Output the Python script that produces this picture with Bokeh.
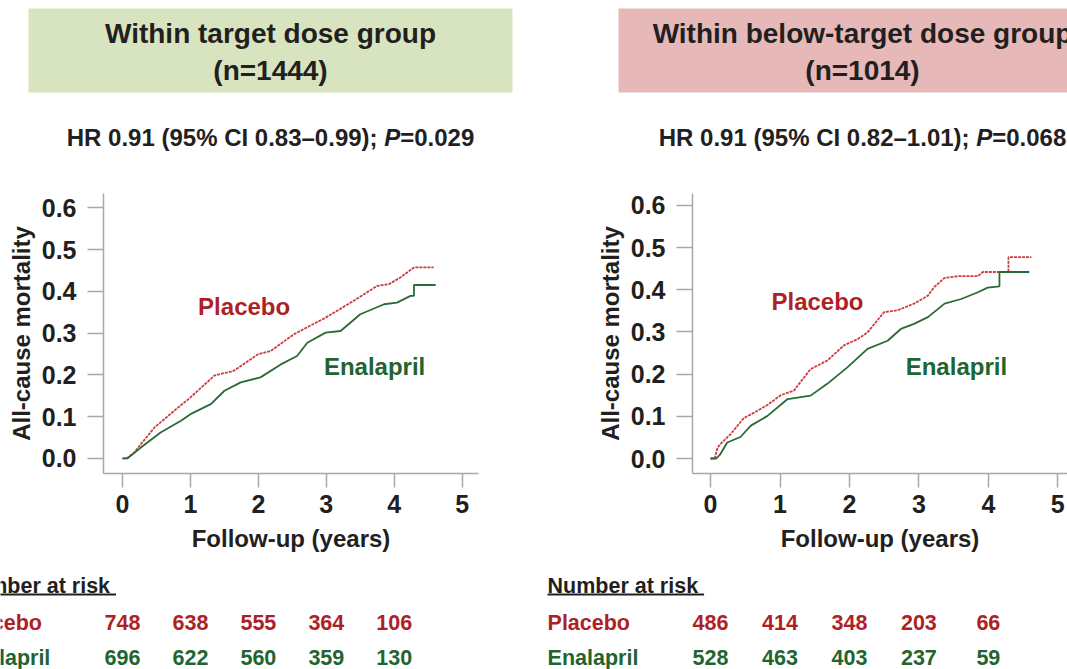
from bokeh.plotting import figure
from bokeh.layouts import row, column
from bokeh.models import Range1d, FixedTicker
from bokeh.core.properties import value
from bokeh.embed import file_html
from bokeh.resources import INLINE

# ---------------- data ----------------
titles = ["Within target dose group", "Within below-target dose group"]
group_n = ["(n=1444)", "(n=1014)"]
hr_main = ["HR 0.91 (95% CI 0.83\u20130.99);", "HR 0.91 (95% CI 0.82\u20131.01);"]
p_vals = ["=0.029", "=0.068"]

x_ticks = [0, 1, 2, 3, 4, 5]
y_ticks = [0.0, 0.1, 0.2, 0.3, 0.4, 0.5, 0.6]

# target dose group (left)
L_t_pla = [0, 0.06, 0.17, 0.47, 0.76, 1.0, 1.35, 1.64, 1.99, 2.18, 2.52, 2.99, 3.36, 3.75, 3.92, 4.09, 4.29, 4.58]
L_y_pla = [0, 0.0, 0.014, 0.074, 0.114, 0.146, 0.198, 0.210, 0.249, 0.257, 0.297, 0.337, 0.373, 0.413, 0.417, 0.433, 0.457, 0.457]
L_t_ena = [0, 0.07, 0.27, 0.56, 0.86, 1.0, 1.30, 1.50, 1.74, 2.03, 2.33, 2.57, 2.72, 2.99, 3.21, 3.50, 3.85, 4.04, 4.24, 4.29, 4.29, 4.61]
L_y_ena = [0, 0.0, 0.026, 0.062, 0.090, 0.106, 0.130, 0.162, 0.182, 0.194, 0.225, 0.245, 0.277, 0.301, 0.305, 0.345, 0.369, 0.373, 0.389, 0.389, 0.415, 0.415]

# below-target dose group (right)
R_t_pla = [0, 0.06, 0.10, 0.14, 0.29, 0.48, 0.63, 0.82, 1.01, 1.20, 1.44, 1.68, 1.92, 2.12, 2.26, 2.50, 2.69, 2.93, 3.13, 3.22, 3.37, 3.56, 3.85, 3.92, 4.29, 4.29, 4.62]
R_y_pla = [0, 0.0, 0.026, 0.034, 0.058, 0.096, 0.109, 0.127, 0.150, 0.161, 0.212, 0.232, 0.268, 0.283, 0.299, 0.347, 0.351, 0.367, 0.386, 0.406, 0.428, 0.432, 0.432, 0.442, 0.442, 0.477, 0.477]
R_t_ena = [0, 0.08, 0.14, 0.24, 0.43, 0.58, 0.82, 1.11, 1.44, 1.68, 1.97, 2.26, 2.55, 2.74, 2.93, 3.13, 3.37, 3.61, 3.85, 3.99, 4.16, 4.16, 4.59]
R_y_ena = [0, 0.0, 0.010, 0.038, 0.051, 0.078, 0.101, 0.141, 0.149, 0.177, 0.216, 0.260, 0.279, 0.307, 0.319, 0.335, 0.367, 0.378, 0.394, 0.405, 0.408, 0.442, 0.442]

risk_times = [0, 1, 2, 3, 4]
L_risk_pla = [748, 638, 555, 364, 106]
L_risk_ena = [696, 622, 560, 359, 130]
R_risk_pla = [486, 414, 348, 203, 66]
R_risk_ena = [528, 463, 403, 237, 59]

# ---------------- style ----------------
FONT = value("Liberation Sans")
DARK = "#231f20"
RED_TXT = "#ae1f26"
GRN_TXT = "#1f6530"
RED_LN = "#cc3c40"
GRN_LN = "#2a6a36"
AXIS_C = "#a8a8a8"
BOX_C = ["#d8e4bf", "#e6b9b8"]

W_EM = {" ": 278, "(": 333, ")": 333, "%": 889, ";": 333, "=": 584, ".": 278, "\u2013": 556,
        "H": 722, "R": 722, "C": 722, "I": 278, "P": 667, "N": 722, "u": 611, "m": 889, "b": 611,
        "e": 556, "r": 389, "a": 556, "t": 333, "i": 278, "s": 556, "k": 556}


def text_w(s, size):
    return sum(W_EM.get(c, 556) for c in s) / 1000.0 * size


def no_align(p):
    try:
        p.frame_align = False
    except Exception:
        pass


def base_fig(w, h, xr, yr):
    p = figure(width=w, height=h, x_range=xr, y_range=yr, toolbar_location=None,
               output_backend="svg", x_axis_type=None, y_axis_type=None,
               min_border=0, outline_line_color=None)
    p.background_fill_color = "white"
    p.border_fill_color = "white"
    no_align(p)
    return p


COL_SPLIT = 540
PAGE_W, PAGE_H = 1067, 669
WL = COL_SPLIT
WR = PAGE_W - COL_SPLIT
TOP_H, MID_H = 170, 390
BOT_H = PAGE_H - TOP_H - MID_H


def top_panel(idx, x0, x1, box_l, box_r, cx):
    p = base_fig(x1 - x0, TOP_H, Range1d(x0, x1), Range1d(TOP_H, 0))
    p.quad(left=[box_l], right=[box_r], top=[8], bottom=[92], fill_color=BOX_C[idx], line_color=None)
    p.text(x=[cx], y=[33], text=[titles[idx]], text_font=FONT, text_font_style="bold",
           text_font_size="28px", text_color=DARK, text_align="center", text_baseline="middle")
    p.text(x=[cx], y=[70], text=[group_n[idx]], text_font=FONT, text_font_style="bold",
           text_font_size="28px", text_color=DARK, text_align="center", text_baseline="middle")
    fs = 24
    a, b, c = hr_main[idx], "P", p_vals[idx]
    wa = text_w(a + " ", fs)
    wb = text_w(b, fs)
    total = wa + wb + text_w(c, fs)
    x_s = -total / 2
    common = dict(text_font=FONT, text_font_size=f"{fs}px", text_color=DARK,
                  text_align="left", text_baseline="middle")
    p.text(x=[cx], y=[137], x_offset=x_s, text=[a], text_font_style="bold", **common)
    p.text(x=[cx], y=[137], x_offset=x_s + wa, text=[b], text_font_style="bold italic", **common)
    p.text(x=[cx], y=[137], x_offset=x_s + wa + wb, text=[c], text_font_style="bold", **common)
    return p


def km_panel(w, xr, yr, bl, br, t_p, y_p, t_e, y_e, lab_p, lab_e):
    p = figure(width=w, height=MID_H, x_range=xr, y_range=yr, toolbar_location=None,
               output_backend="svg", min_border_left=bl, min_border_right=br,
               min_border_top=23, min_border_bottom=87, outline_line_color=None)
    no_align(p)
    p.grid.visible = False
    p.background_fill_color = "white"
    p.border_fill_color = "white"
    for ax in (p.xaxis[0], p.yaxis[0]):
        ax.axis_line_color = AXIS_C
        ax.axis_line_width = 1.5
        ax.major_tick_line_color = AXIS_C
        ax.major_tick_line_width = 1.5
        ax.major_tick_in = 0
        ax.minor_tick_line_color = None
        ax.major_label_text_font = "Liberation Sans"
        ax.major_label_text_font_style = "bold"
        ax.major_label_text_font_size = "25px"
        ax.major_label_text_color = DARK
        ax.axis_label_text_font = "Liberation Sans"
        ax.axis_label_text_font_style = "bold"
        ax.axis_label_text_font_size = "24px"
        ax.axis_label_text_color = DARK
    p.xaxis.ticker = FixedTicker(ticks=x_ticks)
    p.yaxis.ticker = FixedTicker(ticks=y_ticks)
    p.yaxis.major_label_overrides = {v: f"{v:.1f}" for v in y_ticks}
    p.xaxis.major_tick_out = 14
    p.yaxis.major_tick_out = 16
    p.xaxis.major_label_standoff = 7
    p.yaxis.major_label_standoff = 11
    p.xaxis.axis_label = "Follow-up (years)"
    p.yaxis.axis_label = "All-cause mortality"
    p.xaxis.axis_label_standoff = 9
    p.yaxis.axis_label_standoff = 4

    p.line(t_p, y_p, line_color=RED_LN, line_width=1.8, line_dash="3 1")
    p.line(t_e, y_e, line_color=GRN_LN, line_width=1.8)
    p.text(x=[lab_p[0]], y=[lab_p[1]], text=["Placebo"], text_font=FONT, text_font_style="bold",
           text_font_size="24px", text_color=RED_TXT, text_align="center", text_baseline="middle")
    p.text(x=[lab_e[0]], y=[lab_e[1]], text=["Enalapril"], text_font=FONT, text_font_style="bold",
           text_font_size="24px", text_color=GRN_TXT, text_align="center", text_baseline="middle")
    return p


def risk_panel(w, xr, r_p, r_e, label_dx):
    p = base_fig(w, BOT_H, xr, Range1d(PAGE_H, TOP_H + MID_H))
    fsz = 21.5
    fs = f"{fsz}px"
    head = "Number at risk"
    common = dict(text_font=FONT, text_font_style="bold", text_font_size=fs,
                  text_baseline="middle")
    p.text(x=[0], y=[585], x_offset=label_dx, text=[head], text_color=DARK, text_align="left", **common)
    px_per_yr = w / (xr.end - xr.start)
    ul_len = text_w(head + " ", fsz) / px_per_yr
    x_start = label_dx / px_per_yr
    p.segment(x0=[x_start], y0=[594], x1=[x_start + ul_len], y1=[594], line_color=DARK, line_width=2)
    p.text(x=[0], y=[622], x_offset=label_dx, text=["Placebo"], text_color=RED_TXT, text_align="left", **common)
    p.text(x=[0], y=[657], x_offset=label_dx, text=["Enalapril"], text_color=GRN_TXT, text_align="left", **common)
    p.text(x=risk_times, y=[622] * 5, text=[str(v) for v in r_p], text_color=RED_TXT, text_align="center", **common)
    p.text(x=risk_times, y=[657] * 5, text=[str(v) for v in r_e], text_color=GRN_TXT, text_align="center", **common)
    return p


# left column: frame spans x=103..478 for t in (-0.28, 5.24)
L_FL, L_FR = 103, 478
L_XR = (-0.28, 5.24)
L_ppy = (L_FR - L_FL) / (L_XR[1] - L_XR[0])
tl = top_panel(0, 0, COL_SPLIT, 28, 512, 270)
ml = km_panel(WL, Range1d(*L_XR), Range1d(-0.036, 0.634), L_FL, COL_SPLIT - L_FR,
              L_t_pla, L_y_pla, L_t_ena, L_y_ena, (1.79, 0.363), (3.71, 0.219))
bl = risk_panel(WL, Range1d(L_XR[0] - L_FL / L_ppy, L_XR[1] + (COL_SPLIT - L_FR) / L_ppy),
                L_risk_pla, L_risk_ena, -163)

# right column: frame spans x=692..1067 for t in (-0.26, 5.14)
R_FL = 692
R_XR = (-0.26, 5.14)
R_ppy = (PAGE_W - R_FL) / (R_XR[1] - R_XR[0])
tr = top_panel(1, COL_SPLIT, PAGE_W, 618, 1106, 862)
mr = km_panel(WR, Range1d(*R_XR), Range1d(-0.0355, 0.628), R_FL - COL_SPLIT, 0,
              R_t_pla, R_y_pla, R_t_ena, R_y_ena, (1.54, 0.371), (3.54, 0.218))
br = risk_panel(WR, Range1d(R_XR[0] - (R_FL - COL_SPLIT) / R_ppy, R_XR[1]),
                R_risk_pla, R_risk_ena, -163)

layout = row(column(tl, ml, bl), column(tr, mr, br))
open("out.html", "w").write(file_html(layout, INLINE))
